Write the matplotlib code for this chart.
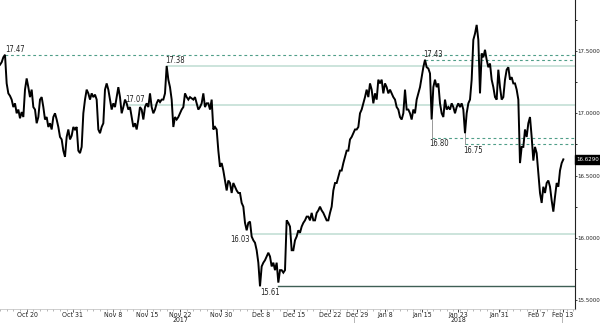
import numpy as np
import matplotlib
matplotlib.use("Agg")
import matplotlib.pyplot as plt
from matplotlib.ticker import FixedLocator, MultipleLocator, FormatStrFormatter
import matplotlib.transforms as mtransforms

plt.rcParams['font.family'] = ['DejaVu Sans']
plt.rcParams['font.stretch'] = 'condensed'

# price path (one value per ~1/4 trading day)
prices_oct_nov = [
    17.39, 17.41, 17.45, 17.47, 17.24, 17.16, 17.14, 17.11, 17.05, 17.08,
    17.00, 17.03, 16.96, 17.01, 16.97, 17.19, 17.28, 17.21, 17.13, 17.19,
    17.05, 17.03, 16.92, 16.97, 17.11, 17.13, 17.05, 16.95, 16.97, 16.89,
    16.92, 16.87, 16.97, 17.00, 16.95, 16.89, 16.81, 16.79, 16.70, 16.65,
    16.81, 16.87, 16.79, 16.82, 16.89, 16.87, 16.89, 16.70, 16.68, 16.73,
    17.00, 17.11, 17.19, 17.16, 17.11, 17.16, 17.13, 17.15, 17.11, 16.87,
    16.84, 16.89, 16.92, 17.19, 17.24, 17.19, 17.11, 17.03, 17.08, 17.05,
    17.13, 17.21, 17.13, 17.00, 17.05, 17.11, 17.08, 17.03, 17.05, 16.97,
    16.89, 16.92, 16.87, 16.95, 17.05, 17.03, 16.95, 17.05, 17.08, 17.05,
    17.16, 17.05, 17.00, 17.03, 17.08, 17.11, 17.09, 17.11, 17.11, 17.16,
    17.38, 17.27, 17.21, 17.11, 16.89, 16.97, 16.95, 16.97, 17.00, 17.03,
    17.05, 17.16, 17.13, 17.11,
]
prices_dec = [
    17.13, 17.12, 17.11, 17.13, 17.08, 17.03, 17.05, 17.08, 17.16, 17.05,
    17.08, 17.08, 17.03, 17.11, 16.87, 16.89, 16.87, 16.70, 16.57, 16.60,
    16.54, 16.46, 16.38, 16.46, 16.44, 16.36, 16.44, 16.41, 16.38, 16.36,
    16.36, 16.28, 16.25, 16.12, 16.06, 16.12, 16.13, 16.01, 15.98, 15.96,
    15.90, 15.80, 15.61, 15.77, 15.80, 15.82, 15.85, 15.88, 15.85, 15.77,
    15.80, 15.74, 15.80, 15.64, 15.74, 15.74, 15.72, 15.74, 16.14, 16.12,
    16.09, 15.90, 15.90, 15.98, 16.01, 16.06, 16.04, 16.09, 16.12, 16.14,
    16.17, 16.17, 16.14, 16.20, 16.14, 16.14, 16.20, 16.22, 16.25, 16.22,
    16.20, 16.17, 16.14, 16.14, 16.20, 16.25, 16.38, 16.44, 16.44, 16.49,
    16.54, 16.54, 16.60, 16.65, 16.70, 16.70, 16.79, 16.81, 16.84, 16.87,
    16.87, 16.89, 17.00, 17.03, 17.08, 17.13, 17.19, 17.13, 17.24, 17.19,
    17.08, 17.16, 17.11, 17.27, 17.24, 17.27, 17.16, 17.24, 17.21, 17.16,
]
prices_jan_feb = [
    17.19, 17.16, 17.13, 17.11, 17.05, 17.03, 16.97, 16.95, 17.00, 17.19,
    17.03, 17.03, 17.00, 16.95, 17.03, 17.00, 17.11, 17.16, 17.21, 17.29,
    17.37, 17.43, 17.37, 17.36, 17.32, 16.95, 17.21, 17.27, 17.21, 17.24,
    17.08, 17.00, 16.97, 17.11, 17.03, 17.05, 17.03, 17.08, 17.05, 17.00,
    17.05, 17.08, 17.05, 17.08, 17.03, 16.84, 17.00, 17.08, 17.11, 17.27,
    17.59, 17.64, 17.71, 17.59, 17.16, 17.48, 17.45, 17.51, 17.43, 17.37,
    17.40, 17.27, 17.21, 17.13, 17.11, 17.35, 17.21, 17.11, 17.13, 17.27,
    17.35, 17.37, 17.27, 17.29, 17.24, 17.24, 17.19, 17.11, 16.60, 16.73,
    16.73, 16.87, 16.81, 16.92, 16.97, 16.81, 16.62, 16.73, 16.68, 16.52,
    16.36, 16.28, 16.41, 16.36, 16.44, 16.46, 16.41, 16.30, 16.21, 16.33,
    16.44, 16.41, 16.54, 16.60, 16.63,
]
last_price = 16.6290

# date labels and the bar they sit on
date_labels = ["Oct 20", "Oct 31", "Nov 8", "Nov 15", "Nov 22\n2017", "Nov 30",
               "Dec 8", "Dec 15", "Dec 22", "Dec 29", "Jan 8", "Jan 15",
               "Jan 23\n2018", "Jan 31", "Feb 7", "Feb 13"]
date_bars = [16.2, 43.8, 67.8, 88.2, 108, 132.6, 156.6, 176.4, 198, 214.2,
             231, 253.2, 274.8, 299.4, 322.2, 337.8]
year_breaks = [212.4, 337.2]

# support / resistance levels: value, first bar, kind
level_values = [17.47, 17.43, 17.38, 17.07, 16.80, 16.75, 16.03, 15.61]
level_start = [3, 255, 100, 75, 259, 279, 152, 167]
level_kind = ["dash", "dash", "solid", "solid", "dash", "dash", "solid", "dark"]

prices = np.array(prices_oct_nov + prices_dec + prices_jan_feb)
bars = np.arange(len(prices))

fig = plt.figure(figsize=(6, 3.23), dpi=100)
ax = fig.add_axes([0, 14 / 323, 575 / 600, 309 / 323])

x_end = 345
styles = {
    "dash": dict(color="#4f9e88", lw=0.8, ls=(0, (2.5, 2.5))),
    "solid": dict(color="#c4dfd6", lw=1.2, ls="-"),
    "dark": dict(color="#3f5f55", lw=1.0, ls="-"),
}
for val, start, kind in zip(level_values, level_start, level_kind):
    ax.plot([start, x_end], [val, val], zorder=1, **styles[kind])

# thin drops from the spikes down to the dashed lows
for b, lvl in [(259, 16.80), (279, 16.75)]:
    ax.plot([b, b], [prices[b], lvl], color="#888888", lw=0.6, zorder=1)

ax.plot(bars, prices, color="black", lw=1.4, zorder=3, solid_joinstyle="miter")

fs = 5
lab = dict(fontsize=5.5, color="#222222", zorder=4)
ax.text(3, 17.475, "17.47", ha="left", va="bottom", **lab)
ax.text(99, 17.385, "17.38", ha="left", va="bottom", **lab)
ax.text(75, 17.075, "17.07", ha="left", va="bottom", **lab)
ax.text(254, 17.435, "17.43", ha="left", va="bottom", **lab)
ax.text(257.5, 16.79, "16.80", ha="left", va="top", **lab)
ax.text(278, 16.74, "16.75", ha="left", va="top", **lab)
ax.text(150, 15.99, "16.03", ha="right", va="center", **lab)
ax.text(156, 15.60, "15.61", ha="left", va="top", **lab)

ax.set_xlim(0, x_end)
ax.set_ylim(15.428, 17.91)

ax.yaxis.tick_right()
ax.yaxis.set_major_locator(MultipleLocator(0.5))
ax.yaxis.set_minor_locator(MultipleLocator(0.25))
ax.yaxis.set_major_formatter(FormatStrFormatter("%.4f"))
ax.tick_params(axis="y", which="major", length=1.5, width=0.6, pad=0.5,
               labelsize=4.4, colors="#222222")
ax.tick_params(axis="y", which="minor", length=1.5, width=0.6)

ax.xaxis.set_major_locator(FixedLocator(date_bars))
ax.set_xticklabels(date_labels, linespacing=0.8)
ax.xaxis.set_minor_locator(MultipleLocator(4))
ax.tick_params(axis="x", which="major", length=2, width=0.6, pad=0.5,
               labelsize=fs, colors="#222222")
ax.tick_params(axis="x", which="minor", length=1.2, width=0.5, color="#999999")

for s in ["top", "left"]:
    ax.spines[s].set_visible(False)
ax.spines["right"].set_color("#222222")
ax.spines["right"].set_linewidth(0.8)
ax.spines["bottom"].set_color("#bbbbbb")
ax.spines["bottom"].set_linewidth(0.5)

trans = mtransforms.blended_transform_factory(ax.transData, ax.transAxes)
for b in year_breaks:
    ax.plot([b, b], [-0.026, -0.05], transform=trans, color="#aaaaaa",
            lw=0.6, clip_on=False)

ytrans = mtransforms.blended_transform_factory(ax.transAxes, ax.transData)
ax.text(1.003, last_price, f"{last_price:.4f}", transform=ytrans, ha="left",
        va="center", fontsize=4.4, color="white", zorder=5,
        bbox=dict(boxstyle="square,pad=0.25", fc="black", ec="black"))

fig.savefig("out.png", dpi=100)
